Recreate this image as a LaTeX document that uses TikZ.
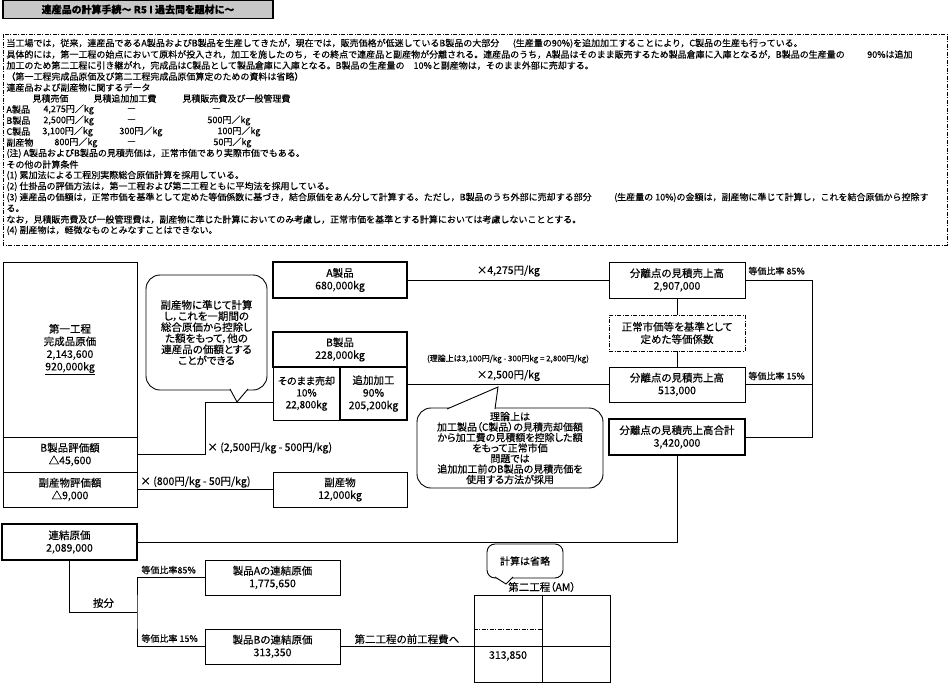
\documentclass[tikz,border=0pt]{standalone}
\usepackage{fontspec}
\setmainfont{Noto Sans CJK JP}[RawFeature=+palt,FakeBold=0.3]
\newfontfamily\plainjp{Noto Sans CJK JP}[FakeBold=0.3]
\begin{document}
\begin{tikzpicture}[x=1pt,y=-1pt,line width=0.9pt,
    cell/.style={draw,inner sep=0pt,align=center,font=\fontsize{10.5}{12.5}\selectfont},
    heavy/.style={cell,line width=2.2pt},
    note/.style={draw,fill=white,rounded corners=14pt,inner sep=0pt,align=center},
    lbl/.style={inner sep=1pt,font=\fontsize{10.5}{12.5}\selectfont},
    ratio/.style={anchor=west,inner sep=0pt,font=\fontsize{9}{11}\selectfont},
    txt/.style={anchor=west,inner sep=0pt,font=\plainjp\fontsize{9}{11}\selectfont},
    dashdot/.style={line width=0.8pt,dash pattern=on 4pt off 1.5pt on 1pt off 1.5pt}]
  \useasboundingbox (0,0) rectangle (952,687);
  \node[draw,line width=1.2pt,fill=black!22,minimum width=270,minimum height=18,inner sep=0pt,
    font=\bfseries\fontsize{10}{12}\selectfont] (title) at (138,9.5) {連産品の計算手続～ R5 I 過去問を題材に～};
  \draw[dashdot] (3,34) rectangle (947,245);
  \begin{scope}[every node/.style={txt}]
    \node (l1) at (6,43.5) {当工場では，従来，連産品であるA製品およびB製品を生産してきたが，現在では，販売価格が低迷しているB製品の大部分\hspace{1.5em}(生産量の90\%)を追加加工することにより，C製品の生産も行っている。};
    \node (l2) at (6,54.5) {具体的には，第一工程の始点において原料が投入され，加工を施したのち，その終点で連産品と副産物が分離される。連産品のうち，A製品はそのまま販売するため製品倉庫に入庫となるが，B製品の生産量の\hspace{2.5em}90\%は追加};
    \node (l3) at (6,65.5) {加工のため第二工程に引き継がれ，完成品はC製品として製品倉庫に入庫となる。B製品の生産量の\hspace{1em}10\%と副産物は，そのまま外部に売却する。};
    \node (l4) at (6,76.5) {（第一工程完成品原価及び第二工程完成品原価算定のための資料は省略）};
    \node (l5) at (6,87.5) {連産品および副産物に関するデータ};
    \node (h1) at (32,98.5) {見積売価};
    \node (h2) at (93,98.5) {見積追加加工費};
    \node (h3) at (182,98.5) {見積販売費及び一般管理費};
    \node (ra1) at (6,109.5) {A製品};
    \node (ra2) at (43,109.5) {4,275円／kg};
    \node (ra3) at (127,109.5) {—};
    \node (ra4) at (212,109.5) {—};
    \node (rb1) at (6,120.5) {B製品};
    \node (rb2) at (43,120.5) {2,500円／kg};
    \node (rb3) at (127,120.5) {—};
    \node (rb4) at (207,120.5) {500円／kg};
    \node (rc1) at (6,131.5) {C製品};
    \node (rc2) at (42,131.5) {3,100円／kg};
    \node (rc3) at (119,131.5) {300円／kg};
    \node (rc4) at (217,131.5) {100円／kg};
    \node (rd1) at (6,142.5) {副産物};
    \node (rd2) at (54,142.5) {800円／kg};
    \node (rd3) at (127,142.5) {—};
    \node (rd4) at (213,142.5) {50円／kg};
    \node (l11) at (6,153.5) {(注) A製品およびB製品の見積売価は，正常市価であり実際市価でもある。};
    \node (l12) at (6,164.5) {その他の計算条件};
    \node (l13) at (6,175.5) {(1) 累加法による工程別実際総合原価計算を採用している。};
    \node (l14) at (6,186.5) {(2) 仕掛品の評価方法は，第一工程および第二工程ともに平均法を採用している。};
    \node (l15) at (6,197.5) {(3) 連産品の価額は，正常市価を基準として定めた等価係数に基づき，結合原価をあん分して計算する。ただし，B製品のうち外部に売却する部分\hspace{2.5em}(生産量の 10\%)の金額は，副産物に準じて計算し，これを結合原価から控除す};
    \node (l16) at (6,208.5) {る。};
    \node (l17) at (6,219.5) {なお，見積販売費及び一般管理費は，副産物に準じた計算においてのみ考慮し，正常市価を基準とする計算においては考慮しないこととする。};
    \node (l18) at (6,230.5) {(4) 副産物は，軽微なものとみなすことはできない。};
  \end{scope}
  \node[cell,minimum width=134,minimum height=175] (fp) at (70,349.5) {第一工程\\完成品原価\\2,143,600\\\underline{920,000kg}};
  \node[cell,minimum width=134,minimum height=35] (bval) at (70,454.5) {B製品評価額\\△45,600};
  \node[cell,minimum width=134,minimum height=35] (sval) at (70,489.5) {副産物評価額\\△9,000};
  \node[heavy,minimum width=134,minimum height=36] (pa) at (340,280) {A製品\\680,000kg};
  \node[heavy,minimum width=134,minimum height=35] (pb) at (340,349.5) {B製品\\228,000kg};
  \node[cell,minimum width=67,minimum height=53,font=\fontsize{10}{11.8}\selectfont] (bsell) at (306.5,393.5) {そのまま売却\\10\%\\22,800kg};
  \node[heavy,minimum width=67,minimum height=53] (bproc) at (373.5,393.5) {追加加工\\90\%\\205,200kg};
  \node[cell,minimum width=134,minimum height=35] (pby) at (340,489.5) {副産物\\12,000kg};
  \node[cell,minimum width=136,minimum height=36] (sa) at (677,280) {分離点の見積売上高\\2,907,000};
  \node[cell,dashdot,minimum width=136,minimum height=36] (coef) at (677,333) {正常市価等を基準として\\定めた等価係数};
  \node[cell,minimum width=136,minimum height=35] (sb) at (677,384.5) {分離点の見積売上高\\513,000};
  \node[heavy,minimum width=136,minimum height=36] (tot) at (677,437) {分離点の見積売上高合計\\3,420,000};
  \node[heavy,minimum width=135,minimum height=36] (jc) at (69.5,542) {連結原価\\2,089,000};
  \node[cell,minimum width=135,minimum height=35] (ja) at (272.5,577.5) {製品Aの連結原価\\1,775,650};
  \node[cell,minimum width=135,minimum height=35] (jb) at (272.5,646.5) {製品Bの連結原価\\313,350};
  \node[draw,minimum width=136,minimum height=87,inner sep=0pt] (am) at (542,638.5) {};
  \draw (pa.east) -- node[lbl,above=2pt]{×4,275円/kg} (sa.west);
  \draw (bproc.east |- sb.west) -- node[lbl,above=2pt]{×2,500円/kg} (sb.west);
  \node[inner sep=0pt,font=\fontsize{8}{10}\selectfont] (theory) at (508,359) {(理論上は3,100円/kg - 300円kg = 2,800円/kg)};
  \coordinate (kink) at (205,402);
  \draw (bval.east) -| (kink) -- (kink -| bsell.west);
  \node[lbl,anchor=west] (bvalc) at (206,448) {× (2,500円/kg - 500円/kg)};
  \draw (sval.east) -- (pby.west);
  \node[lbl,anchor=west] (svalc) at (139,482) {× (800円/kg - 50円/kg)};
  \draw (sa.south) -- (coef.north);
  \draw (coef.south) -- (sb.north);
  \coordinate (rail) at (812,280);
  \draw (sa.east) -- (rail) |- (tot.east);
  \draw (sb.east) -- (sb.east -| rail);
  \node[ratio] (rsa) at (748,271) {等価比率 85\%};
  \node[ratio] (rsb) at (748,376) {等価比率 15\%};
  \draw (tot.south) |- (jc.east);
  \coordinate (split) at (137,612);
  \draw (jc.south) |- (split);
  \draw (ja.west) -| (split) |- (jb.west);
  \node[lbl] (anbun) at (103.5,603) {按分};
  \node[ratio] (rja) at (141,570) {等価比率85\%};
  \node[ratio] (rjb) at (141,638.5) {等価比率 15\%};
  \draw (jb.east) -- node[lbl,above=1pt]{第二工程の前工程費へ} (jb.east -| am.west) -- (jb.east -| am.east);
  \draw (am.north) -- (am.south);
  \coordinate (amcut) at (542,629);
  \draw[dashdot] (amcut -| am.west) -- (amcut);
  \node[lbl] (amv) at (508,656) {313,850};
  \node[lbl] (amt) at (542,587) {第二工程（AM）};
  \node[note,minimum width=121,minimum height=115,font=\fontsize{10.5}{11.1}\selectfont] (n1) at (206.5,332.5) {副産物に準じて計算\\し，これを一期間の\\総合原価から控除し\\た額をもって，他の\\連産品の価額とする\\ことができる};
  \filldraw[fill=white] (230,389) -- (237,402) -- (248,389);
  \node[note,minimum width=186,minimum height=80,font=\fontsize{10}{10.5}\selectfont] (n2) at (510,448) {理論上は\\加工製品（C製品）の見積売却価額\\から加工費の見積額を控除した額\\をもって正常市価\\問題では\\追加加工前のB製品の見積売価を\\使用する方法が採用};
  \filldraw[fill=white] (447,409) -- (498,387) -- (495,409);
  \node[note,rounded corners=8pt,minimum width=76,minimum height=34,font=\fontsize{10}{12}\selectfont] (n3) at (525,561) {計算は省略};
  \filldraw[fill=white] (495,577) -- (506,584) -- (513,577);
\end{tikzpicture}
\end{document}
